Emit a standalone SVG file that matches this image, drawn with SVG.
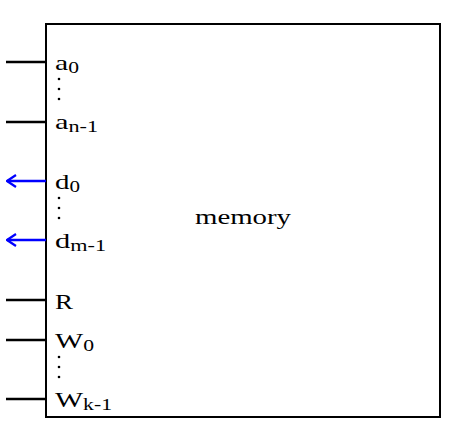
<svg xmlns="http://www.w3.org/2000/svg" width="455" height="445" viewBox="0 0 455 445">
<style>
.t{font-family:"Liberation Serif","DejaVu Serif",serif;font-size:22px;fill:#000}
.s{font-size:16px}
.w{stroke:#000;stroke-width:2.5;fill:none}
.b{stroke:#0000ff;stroke-width:2.5;fill:none}
.dot{fill:#000}
</style>
<defs>
<marker id="ah" viewBox="0 0 12 14" refX="11" refY="7" markerWidth="12" markerHeight="14" markerUnits="userSpaceOnUse" orient="auto">
<path d="M2,1 L11,7 L2,13" fill="none" stroke="#0000ff" stroke-width="2.2"/>
</marker>
</defs>
<g id="memory">
<rect x="46" y="24" width="394" height="393" fill="#fff" stroke="#000" stroke-width="2"/>
<text class="t" x="195" y="224" textLength="96" lengthAdjust="spacingAndGlyphs">memory</text>
<text class="t" x="55" y="70" textLength="24" lengthAdjust="spacingAndGlyphs">a<tspan class="s" dy="3">0</tspan></text>
<text class="t" x="55" y="129" textLength="43" lengthAdjust="spacingAndGlyphs">a<tspan class="s" dy="3">n-1</tspan></text>
<text class="t" x="55" y="189" textLength="25" lengthAdjust="spacingAndGlyphs">d<tspan class="s" dy="3">0</tspan></text>
<text class="t" x="55" y="248" textLength="51" lengthAdjust="spacingAndGlyphs">d<tspan class="s" dy="3">m-1</tspan></text>
<text class="t" x="55" y="309" textLength="18" lengthAdjust="spacingAndGlyphs">R</text>
<text class="t" x="55" y="348" textLength="39" lengthAdjust="spacingAndGlyphs">W<tspan class="s" dy="3">0</tspan></text>
<text class="t" x="55" y="407" textLength="57" lengthAdjust="spacingAndGlyphs">W<tspan class="s" dy="3">k-1</tspan></text>
<circle class="dot" cx="59" cy="79" r="1.3"/><circle class="dot" cx="59" cy="89" r="1.3"/><circle class="dot" cx="59" cy="99" r="1.3"/>
<circle class="dot" cx="59" cy="198" r="1.3"/><circle class="dot" cx="59" cy="208" r="1.3"/><circle class="dot" cx="59" cy="218" r="1.3"/>
<circle class="dot" cx="59" cy="357" r="1.3"/><circle class="dot" cx="59" cy="367" r="1.3"/><circle class="dot" cx="59" cy="377" r="1.3"/>
</g>
<g id="connectors">
<line class="w" x1="6" y1="62" x2="46" y2="62"/>
<line class="w" x1="6" y1="122" x2="46" y2="122"/>
<line class="b" x1="46" y1="181" x2="7" y2="181" marker-end="url(#ah)"/>
<line class="b" x1="46" y1="240" x2="7" y2="240" marker-end="url(#ah)"/>
<line class="w" x1="6" y1="300" x2="46" y2="300"/>
<line class="w" x1="6" y1="340" x2="46" y2="340"/>
<line class="w" x1="6" y1="399" x2="46" y2="399"/>
</g>
</svg>
